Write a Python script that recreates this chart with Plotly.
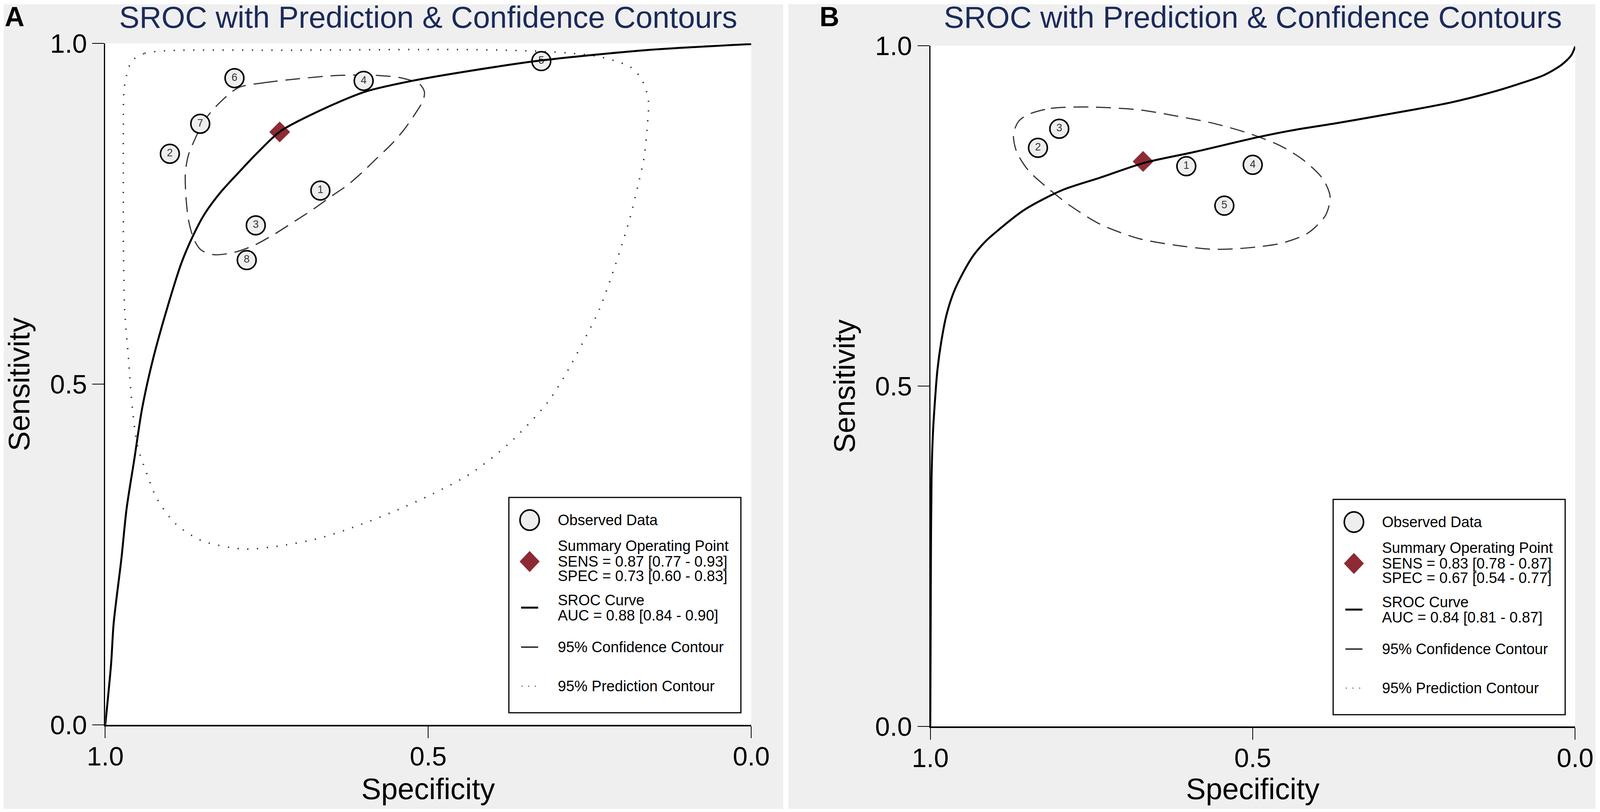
import plotly.graph_objects as go

W, H = 4317, 2078
FONT = "Liberation Sans, Arial, Helvetica, sans-serif"

# ---------------- panel A ----------------
studies_a = ["1", "2", "3", "4", "5", "6", "7", "8"]
spec_a = [0.667, 0.900, 0.767, 0.600, 0.325, 0.800, 0.853, 0.781]
sens_a = [0.784, 0.838, 0.733, 0.945, 0.974, 0.949, 0.882, 0.682]
sum_spec_a = [0.73]
sum_sens_a = [0.87]

sroc_spec_a = [1.0, 0.991, 0.987, 0.975, 0.967, 0.955, 0.943, 0.926, 0.904, 0.882,
               0.864, 0.846, 0.821, 0.793, 0.764, 0.729, 0.671, 0.598, 0.525, 0.433,
               0.325, 0.164, 0.0]
sroc_sens_a = [0.0, 0.089, 0.149, 0.244, 0.317, 0.390, 0.464, 0.537, 0.612, 0.678,
               0.718, 0.750, 0.782, 0.811, 0.840, 0.871, 0.900, 0.929, 0.945, 0.960,
               0.975, 0.990, 0.999]

conf_spec_a = [0.794, 0.756, 0.702, 0.640, 0.579, 0.540, 0.513, 0.506, 0.508, 0.518,
               0.537, 0.556, 0.579, 0.602, 0.625, 0.648, 0.679, 0.710, 0.740, 0.771,
               0.802, 0.832, 0.852, 0.863, 0.871, 0.875, 0.876, 0.871, 0.859, 0.848,
               0.825, 0.794]
conf_sens_a = [0.935, 0.942, 0.948, 0.953, 0.953, 0.949, 0.940, 0.929, 0.916, 0.900,
               0.874, 0.853, 0.832, 0.811, 0.792, 0.777, 0.756, 0.737, 0.719, 0.703,
               0.693, 0.690, 0.697, 0.713, 0.740, 0.774, 0.811, 0.837, 0.864, 0.885,
               0.911, 0.935]

pred_spec_a = [0.909, 0.940, 0.959, 0.967, 0.971, 0.972, 0.972, 0.972, 0.970, 0.964,
               0.958, 0.950, 0.937, 0.920, 0.891, 0.850, 0.785, 0.727, 0.668, 0.610,
               0.551, 0.493, 0.434, 0.376, 0.317, 0.287, 0.258, 0.235, 0.210, 0.188,
               0.176, 0.166, 0.161, 0.159, 0.164, 0.173, 0.188, 0.210, 0.238, 0.273,
               0.319, 0.381, 0.474, 0.704, 0.909]
pred_sens_a = [0.989, 0.985, 0.974, 0.953, 0.932, 0.880, 0.800, 0.720, 0.610, 0.537,
               0.464, 0.409, 0.372, 0.332, 0.295, 0.270, 0.258, 0.263, 0.274, 0.292,
               0.314, 0.339, 0.369, 0.412, 0.471, 0.515, 0.566, 0.610, 0.676, 0.743,
               0.789, 0.832, 0.878, 0.914, 0.935, 0.952, 0.966, 0.974, 0.981, 0.985,
               0.988, 0.990, 0.991, 0.990, 0.989]

legend_a = ["Summary Operating Point", "SENS = 0.87 [0.77 - 0.93]", "SPEC = 0.73 [0.60 - 0.83]",
            "SROC Curve", "AUC = 0.88 [0.84 - 0.90]"]

# ---------------- panel B ----------------
studies_b = ["1", "2", "3", "4", "5"]
spec_b = [0.603, 0.833, 0.800, 0.500, 0.544]
sens_b = [0.823, 0.850, 0.878, 0.825, 0.765]
sum_spec_b = [0.67]
sum_sens_b = [0.83]

sroc_spec_b = [1.0, 0.999, 0.998, 0.996, 0.993, 0.989, 0.983, 0.975, 0.964, 0.950,
               0.933, 0.916, 0.901, 0.854, 0.795, 0.737, 0.668, 0.590, 0.490, 0.431,
               0.371, 0.311, 0.251, 0.191, 0.132, 0.087, 0.048, 0.021, 0.006, 0.0]
sroc_sens_b = [0.0, 0.247, 0.366, 0.428, 0.475, 0.523, 0.565, 0.604, 0.637, 0.665,
               0.692, 0.711, 0.724, 0.759, 0.788, 0.806, 0.828, 0.844, 0.866, 0.877,
               0.886, 0.896, 0.906, 0.917, 0.931, 0.944, 0.957, 0.972, 0.986, 0.999]

conf_spec_b = [0.848, 0.813, 0.754, 0.678, 0.620, 0.561, 0.502, 0.455, 0.420, 0.391,
               0.380, 0.387, 0.414, 0.455, 0.508, 0.561, 0.620, 0.678, 0.737, 0.783,
               0.818, 0.848, 0.866, 0.871, 0.863, 0.848]
conf_sens_b = [0.899, 0.908, 0.910, 0.906, 0.897, 0.886, 0.870, 0.852, 0.831, 0.804,
               0.778, 0.751, 0.725, 0.710, 0.703, 0.701, 0.707, 0.717, 0.738, 0.765,
               0.791, 0.817, 0.844, 0.870, 0.889, 0.899]

legend_b = ["Summary Operating Point", "SENS = 0.83 [0.78 - 0.87]", "SPEC = 0.67 [0.54 - 0.77]",
            "SROC Curve", "AUC = 0.84 [0.81 - 0.87]"]

title_text = "SROC with Prediction & Confidence Contours"


def px(x):
    return x / W


def py(y):
    return 1 - y / H


fig = go.Figure()


def add_panel(n, spec, sens, labels, s_spec, s_sens, r_spec, r_sens, c_spec, c_sens,
              p_spec=None, p_sens=None):
    xa, ya = ("x", "y") if n == 1 else ("x2", "y2")
    if p_spec is not None:
        fig.add_trace(go.Scatter(x=p_spec, y=p_sens, xaxis=xa, yaxis=ya, mode="lines",
                                 line=dict(color="#333333", width=4, dash="3px,22px",
                                           shape="spline", smoothing=0.8),
                                 hoverinfo="skip"))
    fig.add_trace(go.Scatter(x=c_spec, y=c_sens, xaxis=xa, yaxis=ya, mode="lines",
                             line=dict(color="#333333", width=3, dash="38px,20px",
                                       shape="spline", smoothing=0.8),
                             hoverinfo="skip"))
    fig.add_trace(go.Scatter(x=spec, y=sens, xaxis=xa, yaxis=ya, mode="markers+text",
                             text=labels, textposition="middle center",
                             textfont=dict(family=FONT, size=27, color="#333333"),
                             marker=dict(symbol="circle", size=48, color="#eeeeee",
                                         line=dict(color="black", width=4))))
    fig.add_trace(go.Scatter(x=s_spec, y=s_sens, xaxis=xa, yaxis=ya, mode="markers",
                             marker=dict(symbol="diamond", size=41, color="#8e2a33",
                                         line=dict(width=0))))
    fig.add_trace(go.Scatter(x=r_spec, y=r_sens, xaxis=xa, yaxis=ya, mode="lines",
                             line=dict(color="black", width=5, shape="spline", smoothing=0.8),
                             hoverinfo="skip"))


add_panel(1, spec_a, sens_a, studies_a, sum_spec_a, sum_sens_a, sroc_spec_a, sroc_sens_a,
          conf_spec_a, conf_sens_a, pred_spec_a, pred_sens_a)
add_panel(2, spec_b, sens_b, studies_b, sum_spec_b, sum_sens_b, sroc_spec_b, sroc_sens_b,
          conf_spec_b, conf_sens_b)

shapes = []
annotations = []

# grey panel backgrounds, then the white plotting areas on top of them
for (l, r) in [(10, 2113), (2127, 4305)]:
    shapes.append(dict(type="rect", xref="paper", yref="paper", layer="below",
                       x0=px(l), x1=px(r), y0=py(2070), y1=py(11),
                       fillcolor="#efefef", line=dict(width=0)))
for (l, r, t, b) in [(284, 2027, 111, 1855), (2510, 4250, 117, 1859)]:
    shapes.append(dict(type="rect", xref="paper", yref="paper", layer="below",
                       x0=px(l), x1=px(r), y0=py(b), y1=py(t),
                       fillcolor="white", line=dict(width=0)))


def add_legend(left, top, lines):
    right, bottom = left + 626, top + 551
    shapes.append(dict(type="rect", xref="paper", yref="paper",
                       x0=px(left), x1=px(right), y0=py(bottom), y1=py(top),
                       fillcolor="white", line=dict(color="black", width=3)))
    sx = left + 56
    shapes.append(dict(type="circle", xref="paper", yref="paper",
                       x0=px(sx - 26), x1=px(sx + 26), y0=py(top + 58 + 26), y1=py(top + 58 - 26),
                       fillcolor="#eeeeee", line=dict(color="black", width=4)))
    cy = top + 164
    shapes.append(dict(type="path", xref="paper", yref="paper",
                       path="M %f,%f L %f,%f L %f,%f L %f,%f Z" % (
                           px(sx - 27), py(cy), px(sx), py(cy - 27),
                           px(sx + 27), py(cy), px(sx), py(cy + 27)),
                       fillcolor="#8e2a33", line=dict(width=0)))
    shapes.append(dict(type="line", xref="paper", yref="paper",
                       x0=px(sx - 23), x1=px(sx + 23), y0=py(top + 282), y1=py(top + 282),
                       line=dict(color="black", width=5)))
    shapes.append(dict(type="line", xref="paper", yref="paper",
                       x0=px(sx - 23), x1=px(sx + 23), y0=py(top + 383), y1=py(top + 383),
                       line=dict(color="black", width=3)))
    shapes.append(dict(type="line", xref="paper", yref="paper",
                       x0=px(sx - 22), x1=px(sx + 24), y0=py(top + 483), y1=py(top + 483),
                       line=dict(color="#777777", width=3, dash="3px,14px")))
    tx = left + 130
    rows = [("Observed Data", 58), (lines[0], 124), (lines[1], 164), (lines[2], 201),
            (lines[3], 263), (lines[4], 302), ("95% Confidence Contour", 383),
            ("95% Prediction Contour", 483)]
    for txt, dy in rows:
        annotations.append(dict(text=txt, xref="paper", yref="paper", x=px(tx), y=py(top + dy),
                                xanchor="left", yanchor="middle", showarrow=False,
                                font=dict(family=FONT, size=38, color="black")))


add_legend(1373, 1273, legend_a)
add_legend(3597, 1278, legend_b)

for letter, lx, cx in [("A", 40, 1155), ("B", 2238, 3380)]:
    annotations.append(dict(text="<b>%s</b>" % letter, xref="paper", yref="paper",
                            x=px(lx), y=py(2), xanchor="center", yanchor="top",
                            showarrow=False, font=dict(family=FONT, size=70, color="black")))
    annotations.append(dict(text=title_text, xref="paper", yref="paper",
                            x=px(cx), y=py(44), xanchor="center", yanchor="middle",
                            showarrow=False, font=dict(family=FONT, size=78, color="#1b2a5a")))
    annotations.append(dict(text="Specificity", xref="paper", yref="paper",
                            x=px(cx), y=py(2018), xanchor="center", yanchor="middle",
                            showarrow=False, font=dict(family=FONT, size=76, color="black")))

for sx_, sy_ in [(51, 983), (2278, 988)]:
    annotations.append(dict(text="Sensitivity", xref="paper", yref="paper", textangle=-90,
                            x=px(sx_), y=py(sy_), xanchor="center", yanchor="middle",
                            showarrow=False, font=dict(family=FONT, size=76, color="black")))

axis_common = dict(showgrid=False, zeroline=False, showline=True, linecolor="black",
                   automargin=False,
                   ticks="outside", ticklen=30, tickwidth=2, tickcolor="black",
                   tickvals=[0, 0.5, 1], ticktext=["0.0", "0.5", "1.0"],
                   tickfont=dict(family=FONT, size=68, color="black"), fixedrange=True)

fig.update_layout(
    autosize=True,
    margin=dict(l=0, r=0, t=0, b=0, pad=0, autoexpand=False),
    paper_bgcolor="white", plot_bgcolor="white",
    showlegend=False,
    font=dict(family=FONT),
    xaxis=dict(axis_common, domain=[px(284), px(2027)], range=[1, 0], anchor="y",
               linewidth=4, ticklabelstandoff=-12),
    yaxis=dict(axis_common, domain=[py(1855), py(111)], range=[0, 1], anchor="x",
               linewidth=3),
    xaxis2=dict(axis_common, domain=[px(2510), px(4250)], range=[1, 0], anchor="y2",
                linewidth=4, ticklabelstandoff=-12),
    yaxis2=dict(axis_common, domain=[py(1859), py(117)], range=[0, 1], anchor="x2",
                linewidth=3),
    shapes=shapes,
    annotations=annotations,
)

fig.write_html("out.html", default_width="100vw", default_height="100vh",
               config={"responsive": True, "displayModeBar": False},
               post_script="document.body.style.margin='0';document.body.style.overflow='hidden';"
                           "Plotly.Plots.resize(document.getElementsByClassName('plotly-graph-div')[0]);")
